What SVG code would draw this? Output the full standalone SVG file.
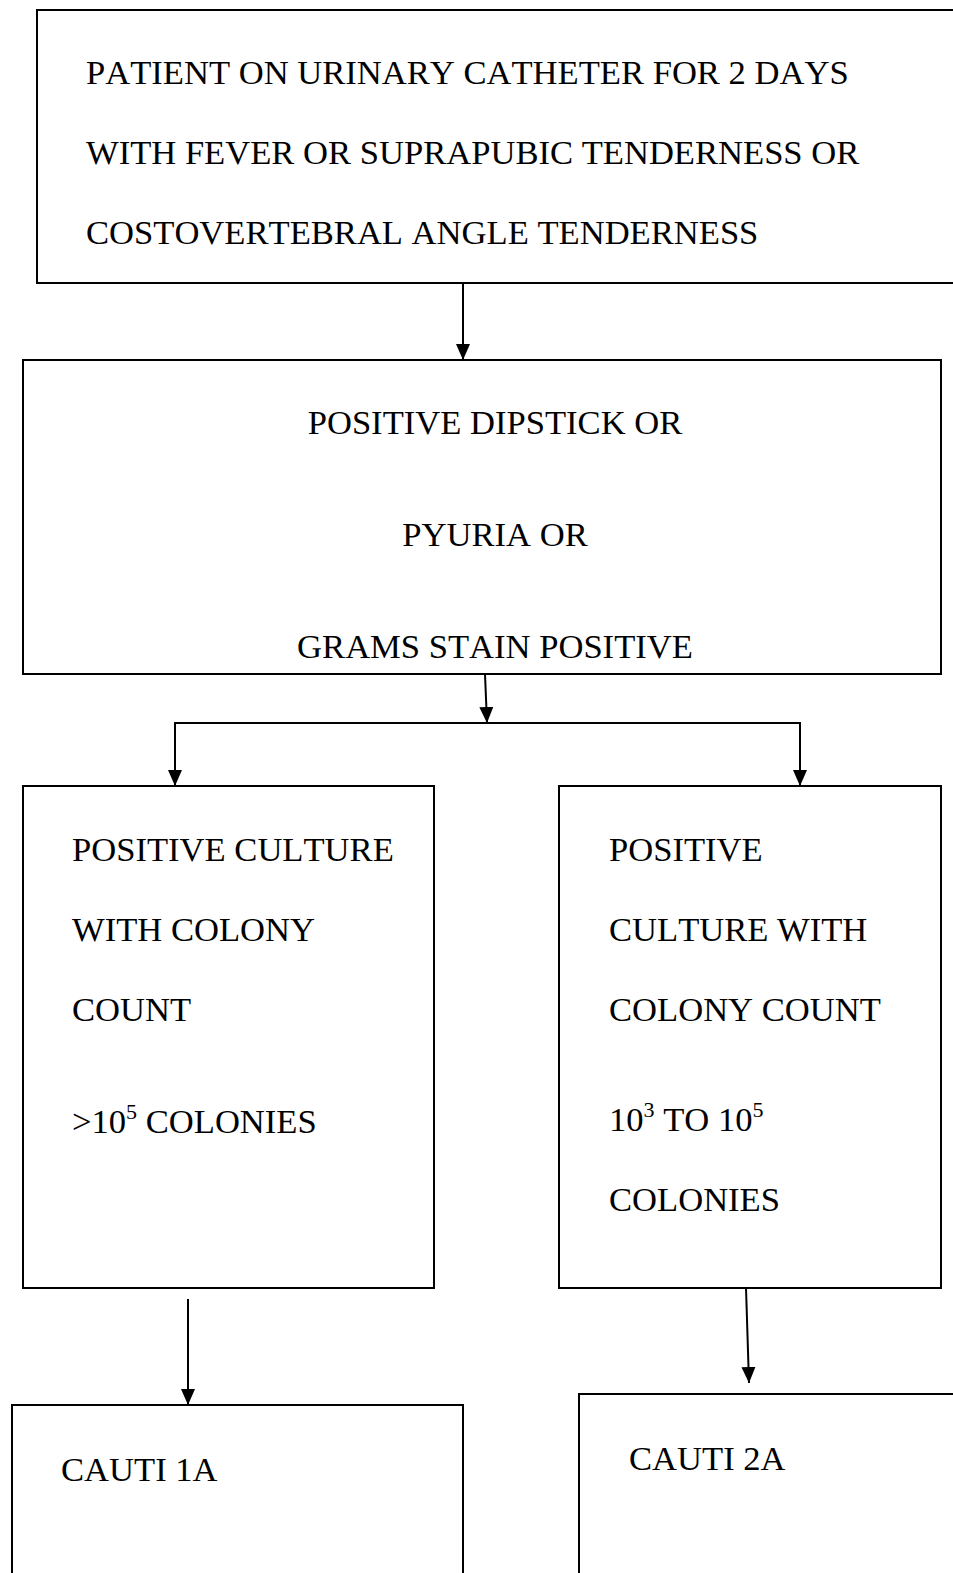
<svg xmlns="http://www.w3.org/2000/svg" width="953" height="1573" viewBox="0 0 953 1573">
  <style>
    .box { fill: #ffffff; stroke: #000000; stroke-width: 2; }
    .lbl { font-family: "Liberation Serif", "Times New Roman", serif; font-size: 34.6px; fill: #000000; font-kerning: none; }
    .mid { text-anchor: middle; }
    .sup { font-size: 22px; }
    .wire { fill: none; stroke: #000000; stroke-width: 2; }
  </style>
  <defs>
    <marker id="arrow" markerUnits="userSpaceOnUse" markerWidth="16" markerHeight="16" refX="16" refY="7" orient="auto">
      <path d="M0,0 L16,7 L0,14 Z" fill="#000000"/>
    </marker>
  </defs>
  <rect width="953" height="1573" fill="#ffffff"/>

  <g id="node-patient">
    <rect class="box" x="37" y="10" width="930" height="273"/>
    <text class="lbl" x="86" y="84">PATIENT ON URINARY CATHETER FOR 2 DAYS</text>
    <text class="lbl" x="86" y="164">WITH FEVER OR SUPRAPUBIC TENDERNESS OR</text>
    <text class="lbl" x="86" y="244">COSTOVERTEBRAL ANGLE TENDERNESS</text>
  </g>

  <g id="node-dipstick">
    <rect class="box" x="23" y="360" width="918" height="314"/>
    <text class="lbl mid" x="495" y="434">POSITIVE DIPSTICK OR</text>
    <text class="lbl mid" x="495" y="546">PYURIA OR</text>
    <text class="lbl mid" x="495" y="658">GRAMS STAIN POSITIVE</text>
  </g>

  <g id="node-culture-high">
    <rect class="box" x="23" y="786" width="411" height="502"/>
    <text class="lbl" x="72" y="861">POSITIVE CULTURE</text>
    <text class="lbl" x="72" y="941">WITH COLONY</text>
    <text class="lbl" x="72" y="1021">COUNT</text>
    <text class="lbl" x="72" y="1133">&gt;10<tspan class="sup" dy="-14">5</tspan><tspan dy="14"> COLONIES</tspan></text>
  </g>

  <g id="node-culture-mid">
    <rect class="box" x="559" y="786" width="382" height="502"/>
    <text class="lbl" x="609" y="861">POSITIVE</text>
    <text class="lbl" x="609" y="941">CULTURE WITH</text>
    <text class="lbl" x="609" y="1021">COLONY COUNT</text>
    <text class="lbl" x="609" y="1131">10<tspan class="sup" dy="-14">3</tspan><tspan dy="14"> TO 10</tspan><tspan class="sup" dy="-14">5</tspan></text>
    <text class="lbl" x="609" y="1211">COLONIES</text>
  </g>

  <g id="node-cauti-1a">
    <rect class="box" x="12" y="1405" width="451" height="200"/>
    <text class="lbl" x="61" y="1481">CAUTI 1A</text>
  </g>

  <g id="node-cauti-2a">
    <rect class="box" x="579" y="1394" width="400" height="220"/>
    <text class="lbl" x="629" y="1470">CAUTI 2A</text>
  </g>

  <g id="connectors">
    <line class="wire" x1="463" y1="283" x2="463" y2="360" marker-end="url(#arrow)"/>
    <line class="wire" x1="485" y1="674" x2="487" y2="723" marker-end="url(#arrow)"/>
    <polyline class="wire" points="175,786 175,723 800,723 800,786" marker-end="url(#arrow)"/>
    <line class="wire" x1="175" y1="730" x2="175" y2="786" marker-end="url(#arrow)"/>
    <line class="wire" x1="188" y1="1299" x2="188" y2="1405" marker-end="url(#arrow)"/>
    <line class="wire" x1="746" y1="1288" x2="749" y2="1383" marker-end="url(#arrow)"/>
  </g>
</svg>
